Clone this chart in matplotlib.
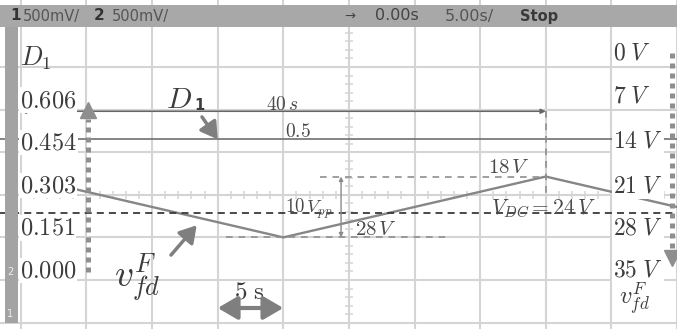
import numpy as np
import matplotlib.pyplot as plt
from matplotlib.patches import Rectangle

plt.rcParams['mathtext.fontset'] = 'cm'
plt.rcParams['font.family'] = 'DejaVu Sans'

# --- scope graticule: 5 s/div, channel 2 shown as 7 V/div (inverted) ---
grid_t = np.arange(-25, 26, 5)
grid_v = np.arange(-7, 43, 7)

# --- field voltage v_fd^F: triangle, 40 s period ---
trace_t = [-25, -5, 15, 25]
trace_v = [18, 28, 18, 23]

v_peak = 18
v_valley = 28
v_dc = 24
d1_level = 0.5
d1_period = 0.6
period_t = [-25, 15]
span_5s = [-10, -5]

# axis labels
left_labels = ['0.606', '0.454', '0.303', '0.151', '0.000']
left_label_v = [7, 14, 21, 28, 35]
right_labels = ['0', '7', '14', '21', '28', '35']
right_label_v = [-1.3, 5.9, 13.2, 20.7, 27.5, 34.5]


def d1_to_v(d):
    # duty cycle D1 -> volts on the inverted right scale
    return 35 - d * 28 / 0.606


W, H = 677, 329
fig = plt.figure(figsize=(W / 100, H / 100), dpi=100)
ax = fig.add_axes([0, 0, 1, 1])
ax.set_xlim(-25 - 21 / 66 * 5, -25 + (W - 21) / 66 * 5)
ax.set_ylim(35 + (H - 280) / 42.6 * 7, 35 - 280 / 42.6 * 7)
ax.set_xticks(grid_t)
ax.set_yticks(grid_v)
ax.grid(True, color='#d4d4d4', lw=1.5)
ax.set_axisbelow(True)
ax.tick_params(length=0, labelbottom=False, labelleft=False)
for s in ax.spines.values():
    s.set_visible(False)

# small ticks on the centre lines
ax.hlines(np.arange(-7, 43, 1.4), -0.3, 0.3, color='#d4d4d4', lw=1.1, zorder=1)
ax.vlines(np.arange(-25, 26, 1), 21 - 0.65, 21 + 0.65, color='#d4d4d4', lw=1.1, zorder=1)

# trace and reference levels
ax.plot(trace_t, trace_v, color='#868686', lw=1.7, zorder=3)
ax.axhline(v_dc, color='#3a3a3a', lw=1.3, ls=(0, (3.9, 2.8)), zorder=3)
ax.axhline(d1_to_v(d1_level), color='#707070', lw=1.2, zorder=3)

v40 = d1_to_v(d1_period)
ax.annotate('', xy=(period_t[1], v40), xytext=(period_t[0], v40),
            arrowprops=dict(arrowstyle='<|-|>', color='#666666', lw=1.1,
                            mutation_scale=7, shrinkA=0, shrinkB=0), zorder=3)

dash = (0, (4, 3.5))
ax.plot([-2.2, trace_t[2]], [v_peak, v_peak], color='#8f8f8f', lw=1.2, ls=dash, zorder=3)
ax.plot([-9.4, 7.4], [v_valley, v_valley], color='#8f8f8f', lw=1.2, ls=dash, zorder=3)
ax.plot([trace_t[2], trace_t[2]], [v40, 21.4], color='#8f8f8f', lw=1.2, ls=dash, zorder=3)
ax.annotate('', xy=(-0.6, v_peak), xytext=(-0.6, v_valley),
            arrowprops=dict(arrowstyle='<|-|>', color='#8a8a8a', lw=1.0,
                            mutation_scale=6, shrinkA=0, shrinkB=0), zorder=3)

# annotation text
tc = '#4a4a4a'
ax.text(-6.3, 7.0, r'$40\,s$', fontsize=14, color=tc, zorder=4)
ax.text(-4.85, 11.5, r'$0.5$', fontsize=14, color=tc, zorder=4)
ax.text(10.6, 17.4, r'$18\,V$', fontsize=15, color=tc, zorder=4)
ax.text(10.8, 24.0, r'$V_{DC} = 24\,V$', fontsize=15.5, color=tc, zorder=4)
ax.text(-4.85, 24.0, r'$10\,V_{pp}$', fontsize=13.5, color=tc, zorder=4)
ax.text(0.5, 27.6, r'$28\,V$', fontsize=15, color=tc, zorder=4)

box = dict(facecolor='white', edgecolor='none', pad=0.6)
lc = '#3c3c3c'
for lab, v in zip(left_labels, left_label_v):
    ax.text(-25.05, v - 0.4, '$' + lab + '$', fontsize=17.5, color=lc,
            va='baseline', bbox=box, zorder=5)
for lab, v in zip(right_labels, right_label_v):
    ax.text(20.15, v, '$' + lab + r'\;V$', fontsize=17, color=lc,
            va='baseline', bbox=box, zorder=5)
ax.text(-25.05, -0.3, r'$D_1$', fontsize=19, color=lc, zorder=5)
ax.text(20.55, 39.0, r'$v_{fd}^{F}$', fontsize=17.5, color=lc, zorder=5)

# big labels with pointer arrows
ax.text(-13.94, 6.74, r'$D$', fontsize=21.5, color=lc, zorder=5)
ax.text(-11.75, 7.07, '1', fontsize=10.5, fontweight='bold', color=lc, zorder=5)
ax.text(-17.9, 36.15, r'$v_{fd}^{F}$', fontsize=27, color=lc, zorder=5)
ax.text(-7.6, 38.1, r'$5\ \mathrm{s}$', fontsize=18, color=lc, ha='center', zorder=5)

ac = '#7f7f7f'
ax.annotate('', xy=(-10, d1_to_v(d1_level)), xytext=(-11.2, 8.2),
            arrowprops=dict(arrowstyle='-|>,head_length=0.5,head_width=0.3', color=ac,
                            lw=2.5, mutation_scale=20, shrinkA=0, shrinkB=0), zorder=6)
ax.annotate('', xy=(-11.6, 26.0), xytext=(-13.56, 30.9),
            arrowprops=dict(arrowstyle='-|>,head_length=0.5,head_width=0.3', color=ac,
                            lw=2.5, mutation_scale=20, shrinkA=0, shrinkB=0), zorder=6)
ax.annotate('', xy=(span_5s[1], 39.6), xytext=(span_5s[0], 39.6),
            arrowprops=dict(arrowstyle='<|-|>,head_length=0.6,head_width=0.35', color=ac,
                            lw=3, mutation_scale=20, shrinkA=0, shrinkB=0), zorder=6)

# dotted scale arrows
dc = '#8e8e8e'
ax.plot([-19.85, -19.85], [33.7, 8.6], color=dc, lw=3.6, ls=(0, (1, 1)),
        dash_capstyle='butt', zorder=6)
ax.plot([-19.85], [7.1], marker='^', ms=11, color=dc, zorder=6)
ax.plot([24.6, 24.6], [-2.3, 30.0], color=dc, lw=3.6, ls=(0, (1, 1)),
        dash_capstyle='butt', zorder=6)
ax.plot([24.6], [31.4], marker='v', ms=11, color=dc, zorder=6)

# scope header bar and channel strip
fig.patches.append(Rectangle((0, 1 - 27 / H), 1, 22 / H, transform=fig.transFigure,
                             facecolor='#a8a8a8', edgecolor='none', zorder=10))
fig.patches.append(Rectangle((5 / W, 1 - 323 / H), 13 / W, 296 / H, transform=fig.transFigure,
                             facecolor='#a3a3a3', edgecolor='none', zorder=10))
hy = 1 - 16 / H
fig.text(10 / W, hy, '1', fontsize=11, fontweight='bold', color='#333333', va='center', zorder=11)
fig.text(23 / W, hy, '500mV/', fontsize=10.5, color='#555555', va='center', zorder=11)
fig.text(94 / W, hy, '2', fontsize=11, fontweight='bold', color='#333333', va='center', zorder=11)
fig.text(112 / W, hy, '500mV/', fontsize=10.5, color='#555555', va='center', zorder=11)
fig.text(344 / W, hy, '\u2192', fontsize=9.5, color='#444444', va='center', zorder=11)
fig.text(375 / W, hy, '0.00s', fontsize=11.5, color='#444444', va='center', zorder=11)
fig.text(445 / W, hy, '5.00s/', fontsize=11.5, color='#555555', va='center', zorder=11)
fig.text(520 / W, hy, 'Stop', fontsize=10.5, fontweight='bold', color='#3a3a3a', va='center', zorder=11)
fig.text(7 / W, 1 - 272 / H, '2', fontsize=7, color='#eeeeee', va='center', zorder=11)
fig.text(7 / W, 1 - 314 / H, '1', fontsize=7, color='#eeeeee', va='center', zorder=11)

fig.savefig('out.png', dpi=100)
